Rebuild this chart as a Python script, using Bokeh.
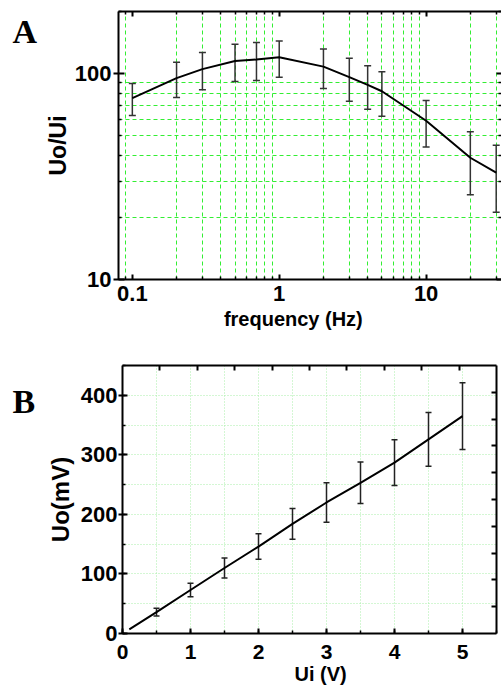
from bokeh.plotting import figure
from bokeh.models import (LinearAxis, LogAxis, FixedTicker, SingleIntervalTicker, Whisker,
                          TeeHead, ColumnDataSource, BasicTickFormatter,
                          CustomJSTickFormatter, Range1d)
from bokeh.core.properties import value
from bokeh.layouts import column, row
from bokeh.embed import file_html
from bokeh.resources import INLINE

# ---- data: panel A (frequency response) ----
freq = [0.1, 0.2, 0.3, 0.5, 0.7, 1, 2, 3, 4, 5, 10, 20, 30]
gain = [76, 95, 105, 115, 117, 120, 108, 96, 88, 82, 59, 39, 33]
gain_err = [13.5, 18.5, 21.5, 23.5, 24.5, 24, 23.5, 22.7, 21, 20, 15, 13.2, 11.8]

freq_major = [0.1, 1, 10]
freq_minor = [0.09, 0.2, 0.3, 0.4, 0.5, 0.6, 0.7, 0.8, 0.9, 2, 3, 4, 5, 6, 7, 8, 9, 20, 30]
gain_major = [10, 100]
gain_minor = [20, 30, 40, 50, 60, 70, 80, 90, 200]

# ---- data: panel B (linearity) ----
ui = [0.1, 0.5, 1, 1.5, 2, 2.5, 3, 3.5, 4, 4.5, 5]
uo = [7, 36, 73, 110, 146, 184, 220, 253, 287, 326, 365]
ui_err_x = [0.5, 1, 1.5, 2, 2.5, 3, 3.5, 4, 4.5, 5]
uo_err_mean = [36, 73, 110, 146, 184, 220, 253, 287, 326, 365]
uo_err = [6.5, 11.3, 16.8, 21.5, 25.7, 33.3, 34.8, 38.5, 45, 56]
top_ticks_b = [0.55, 1.1, 1.65, 2.2, 2.75, 3.3, 3.85, 4.4, 4.95]
right_ticks_b = [45, 90, 135, 180, 225, 270, 315, 360, 405]

panel_letters = ["A", "B"]

FONT = "Liberation Sans"
LEFT_W = 40
NB = "\u00a0"


def style_axis(ax, size="22px", tick_in=5, tick_out=0, minor_in=3):
    ax.axis_line_width = 2
    ax.axis_line_color = "black"
    ax.major_tick_line_width = 2
    ax.minor_tick_line_width = 1.5
    ax.major_tick_in = tick_in
    ax.major_tick_out = tick_out
    ax.minor_tick_in = minor_in
    ax.minor_tick_out = 0
    ax.major_label_text_font = FONT
    ax.major_label_text_font_style = "bold"
    ax.major_label_text_font_size = size
    ax.major_label_text_color = "black"
    ax.axis_label_text_font = FONT
    ax.axis_label_text_font_style = "bold"
    ax.axis_label_text_color = "black"


def hide_labels(ax):
    ax.formatter = CustomJSTickFormatter(code="return ''")
    ax.major_label_text_font_size = "1px"
    ax.major_label_standoff = 0


def letter_fig(h, letter, baseline_y, b_top, b_bottom):
    # frame spans the same rows as the neighbouring chart; y range in pixel rows of this figure
    f = figure(width=LEFT_W, height=h, x_range=Range1d(0, LEFT_W),
               y_range=Range1d(h - b_bottom, b_top),
               output_backend="svg", toolbar_location=None, title=None,
               x_axis_location=None, y_axis_location=None,
               min_border_left=0, min_border_right=0,
               min_border_top=b_top, min_border_bottom=b_bottom)
    f.outline_line_color = None
    f.grid.visible = False
    f.text(x=[12], y=[baseline_y], text=[letter], text_font=value("Liberation Serif"),
           text_font_style="bold", text_font_size="34px", text_color="black",
           text_baseline="alphabetic", text_align="left")
    return f


# ================= Panel A =================
H1 = 336
TOP1, BOT1 = 11, 57
p1 = figure(width=501 - LEFT_W, height=H1, x_axis_type="log", y_axis_type="log",
            x_range=(0.0805, 32.6), y_range=(10, 200), title=None,
            output_backend="svg", toolbar_location=None,
            min_border_left=118 - LEFT_W, min_border_right=0, min_border_top=TOP1,
            min_border_bottom=BOT1,
            x_axis_label="frequency (Hz)" + NB * 6, y_axis_label="Uo/Ui")
p1.outline_line_color = None

p1.xaxis.ticker = FixedTicker(ticks=freq_major, minor_ticks=freq_minor)
p1.yaxis.ticker = FixedTicker(ticks=gain_major, minor_ticks=gain_minor)
p1.xaxis.formatter = BasicTickFormatter()
p1.yaxis.formatter = BasicTickFormatter()
style_axis(p1.xaxis[0])
style_axis(p1.yaxis[0], tick_out=5, tick_in=6)
p1.xaxis.major_label_standoff = 6
p1.yaxis.major_label_standoff = 2
p1.xaxis.axis_label_text_font_size = "20px"
p1.yaxis.axis_label_text_font_size = "23px"
p1.xaxis.axis_label_standoff = 4
p1.yaxis.axis_label_standoff = 1

top1 = LogAxis(ticker=FixedTicker(ticks=freq_major, minor_ticks=freq_minor))
right1 = LogAxis(ticker=FixedTicker(ticks=gain_major, minor_ticks=gain_minor))
for ax in (top1, right1):
    style_axis(ax)
    hide_labels(ax)
right1.axis_line_color = None
p1.add_layout(top1, "above")
p1.add_layout(right1, "right")

for g in (p1.xgrid[0], p1.ygrid[0]):
    g.grid_line_color = None
    g.minor_grid_line_color = "#33ee33"
    g.minor_grid_line_dash = "4 3"
    g.minor_grid_line_width = 1

src1 = ColumnDataSource(dict(
    x=freq, y=gain,
    up=[m + e for m, e in zip(gain, gain_err)],
    lo=[m - e for m, e in zip(gain, gain_err)],
))
w1 = Whisker(source=src1, base="x", upper="up", lower="lo",
             line_color="#333333", line_width=1.5,
             upper_head=TeeHead(size=7, line_color="#333333", line_width=1.5),
             lower_head=TeeHead(size=7, line_color="#333333", line_width=1.5))
p1.add_layout(w1)
p1.line("x", "y", source=src1, line_color="black", line_width=2)

fa = letter_fig(H1, panel_letters[0], 31, TOP1, BOT1)

# ================= Panel B =================
H2 = 690 - H1
TOP2, BOT2 = 365 - H1, 57
p2 = figure(width=501 - LEFT_W, height=H2, x_range=(0, 5.5), y_range=(0, 450), title=None,
            output_backend="svg", toolbar_location=None,
            min_border_left=122 - LEFT_W, min_border_right=5, min_border_top=TOP2,
            min_border_bottom=BOT2,
            x_axis_label=NB * 4 + "Ui (V)", y_axis_label="Uo(mV)")
p2.outline_line_color = None
p2.xaxis.ticker = SingleIntervalTicker(interval=1, num_minor_ticks=2)
p2.yaxis.ticker = SingleIntervalTicker(interval=100, num_minor_ticks=2)
style_axis(p2.xaxis[0], size="21px")
style_axis(p2.yaxis[0], tick_out=4)
p2.xaxis.major_label_standoff = 11
p2.yaxis.major_label_standoff = 1
p2.xaxis.axis_label_text_font_size = "20px"
p2.yaxis.axis_label_text_font_size = "24px"
p2.xaxis.axis_label_standoff = 1
p2.yaxis.axis_label_standoff = 4

top2 = LinearAxis(ticker=FixedTicker(ticks=top_ticks_b))
right2 = LinearAxis(ticker=FixedTicker(ticks=right_ticks_b))
for ax in (top2, right2):
    style_axis(ax)
    hide_labels(ax)
p2.add_layout(top2, "above")
p2.add_layout(right2, "right")

for g in (p2.xgrid[0], p2.ygrid[0]):
    g.grid_line_color = None
    g.minor_grid_line_color = "#a8eea8"
    g.minor_grid_line_dash = "1 2"
    g.minor_grid_line_width = 1

src2 = ColumnDataSource(dict(x=ui, y=uo))
src2e = ColumnDataSource(dict(
    x=ui_err_x,
    up=[m + e for m, e in zip(uo_err_mean, uo_err)],
    lo=[m - e for m, e in zip(uo_err_mean, uo_err)],
))
w2 = Whisker(source=src2e, base="x", upper="up", lower="lo",
             line_color="#222222", line_width=1.5,
             upper_head=TeeHead(size=6, line_color="#222222", line_width=1.5),
             lower_head=TeeHead(size=6, line_color="#222222", line_width=1.5))
p2.add_layout(w2)
p2.line("x", "y", source=src2, line_color="black", line_width=2)

fb = letter_fig(H2, panel_letters[1], 401 - H1, TOP2, BOT2)

layout = column(row(fa, p1, spacing=0), row(fb, p2, spacing=0), spacing=0)
open("out.html", "w").write(file_html(layout, INLINE))
